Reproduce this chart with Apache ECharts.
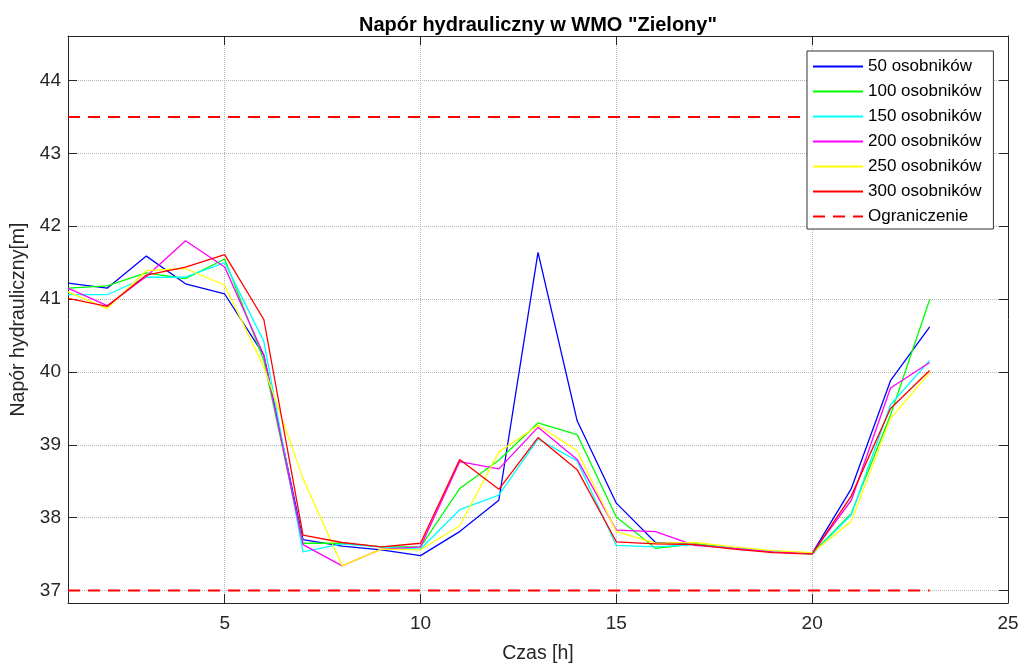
<!DOCTYPE html>
<html>
<head>
<meta charset="utf-8">
<script src="https://cdn.jsdelivr.net/npm/echarts@6/dist/echarts.min.js"></script>
<style>
html,body{margin:0;padding:0;background:#fff;}
#chart{width:1021px;height:663px;}
</style>
</head>
<body>
<div id="chart"></div>
<script>
// ---- data ----
var hours = [1,2,3,4,5,6,7,8,9,10,11,12,13,14,15,16,17,18,19,20,21,22,23];
var seriesNames = ['50 osobników','100 osobników','150 osobników','200 osobników','250 osobników','300 osobników'];
var s50  = [41.22,41.15,41.59,41.21,41.07,40.23,37.70,37.61,37.56,37.48,37.81,38.24,41.64,39.33,38.20,37.66,37.64,37.58,37.54,37.51,38.40,39.88,40.62];
var s100 = [41.15,41.18,41.36,41.28,41.55,40.16,37.65,37.65,37.60,37.60,38.40,38.79,39.30,39.14,38.01,37.58,37.64,37.58,37.54,37.51,38.06,39.41,40.99];
var s150 = [41.06,41.06,41.30,41.30,41.50,40.42,37.53,37.64,37.60,37.57,38.11,38.31,39.08,38.78,37.62,37.60,37.63,37.58,37.54,37.50,38.04,39.55,40.16];
var s200 = [41.15,40.91,41.31,41.80,41.44,40.23,37.63,37.34,37.57,37.60,38.77,38.67,39.24,38.80,37.83,37.81,37.62,37.58,37.53,37.51,38.24,39.78,40.13];
var s250 = [41.10,40.87,41.39,41.42,41.19,40.07,38.54,37.34,37.57,37.56,37.89,38.90,39.27,38.92,37.81,37.65,37.66,37.60,37.55,37.52,37.95,39.36,39.99];
var s300 = [41.01,40.90,41.33,41.44,41.61,40.72,37.76,37.66,37.60,37.65,38.80,38.39,39.10,38.66,37.67,37.64,37.63,37.57,37.52,37.50,38.30,39.50,40.02];
var limitName = 'Ograniczenie';
var limits = [43.5, 37];
var xTicks = [5,10,15,20,25];
var yTicks = [37,38,39,40,41,42,43,44];

// ---- styles ----
var colors = ['#0000ff','#00ff00','#00ffff','#ff00ff','#ffff00','#ff0000'];
var allSeries = [s50,s100,s150,s200,s250,s300];
var FONT = '"Liberation Sans", Arial, sans-serif';
var AX = '#262626';

function pair(xs, ys){ return xs.map(function(x,i){ return [x, ys[i]]; }); }

var series = allSeries.map(function(vals, i){
  return {
    name: seriesNames[i], type: 'line', data: pair(hours, vals),
    symbol: 'none', lineStyle: {color: colors[i], width: 1.3}, itemStyle: {color: colors[i]},
    animation: false
  };
});
limits.forEach(function(v){
  series.push({
    name: limitName, type: 'line',
    data: [[hours[0], v], [hours[hours.length-1], v]],
    symbol: 'none', lineStyle: {color: '#ff0000', width: 2, type: [12, 8]}, itemStyle: {color: '#ff0000'},
    animation: false
  });
});

var gridLine = {show: true, lineStyle: {color: '#b4b4b4', type: 'dotted', width: 1}};

var option = {
  animation: false,
  backgroundColor: '#ffffff',
  title: {
    text: 'Napór hydrauliczny w WMO "Zielony"',
    left: 533, top: 10, textAlign: 'center',
    textStyle: {fontFamily: FONT, fontWeight: 'bold', fontSize: 20, color: '#000'}
  },
  legend: {
    orient: 'vertical', left: 807, top: 51,
    padding: [7, 12, 4, 5], itemGap: 8, itemWidth: 50, itemHeight: 14,
    backgroundColor: '#fff', borderColor: '#333', borderWidth: 1,
    itemStyle: {opacity: 0},
    textStyle: {fontFamily: FONT, fontSize: 17, color: '#000'},
    data: seriesNames.concat([limitName])
  },
  grid: {left: 68, top: 36, right: 13, bottom: 60, containLabel: false, outerBoundsMode: 'none'},
  xAxis: [{
    type: 'value', min: 1, max: 25,
    name: 'Czas [h]', nameLocation: 'middle', nameGap: 41,
    nameTextStyle: {fontFamily: FONT, fontSize: 19.5, color: AX},
    axisLine: {show: true, onZero: false, lineStyle: {color: AX, width: 1}},
    axisTick: {show: true, inside: true, length: 9, customValues: xTicks, lineStyle: {color: AX}},
    axisLabel: {customValues: xTicks, fontFamily: FONT, fontSize: 19, color: AX, margin: 11},
    splitLine: gridLine
  },{
    type: 'value', min: 1, max: 25, position: 'top',
    axisLine: {show: true, onZero: false, lineStyle: {color: AX, width: 1}},
    axisTick: {show: true, inside: true, length: 9, customValues: xTicks, lineStyle: {color: AX}},
    axisLabel: {show: false, customValues: xTicks},
    splitLine: {show: false}
  }],
  yAxis: [{
    type: 'value', min: 36.83, max: 44.61,
    name: 'Napór hydrauliczny[m]', nameLocation: 'middle', nameGap: 33,
    nameTextStyle: {fontFamily: FONT, fontSize: 19.5, color: AX},
    axisLine: {show: true, onZero: false, lineStyle: {color: AX, width: 1}},
    axisTick: {show: true, inside: true, length: 9, customValues: yTicks, lineStyle: {color: AX}},
    axisLabel: {customValues: yTicks, fontFamily: FONT, fontSize: 19, color: AX, margin: 7},
    splitLine: gridLine
  },{
    type: 'value', min: 36.83, max: 44.61, position: 'right',
    axisLine: {show: true, onZero: false, lineStyle: {color: AX, width: 1}},
    axisTick: {show: true, inside: true, length: 9, customValues: yTicks, lineStyle: {color: AX}},
    axisLabel: {show: false, customValues: yTicks},
    splitLine: {show: false}
  }],
  series: series
};

var chart = echarts.init(document.getElementById('chart'), null, {renderer: 'canvas'});
chart.setOption(option);
</script>
</body>
</html>
